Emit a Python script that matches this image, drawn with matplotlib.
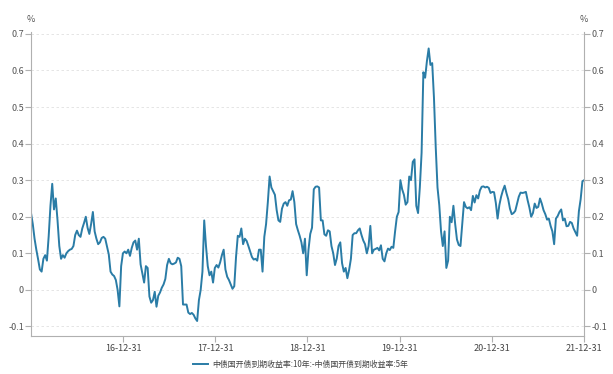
import matplotlib
matplotlib.use('Agg')
import matplotlib.pyplot as plt
import matplotlib.dates as mdates
import matplotlib.ticker as mticker
import numpy as np
import pandas as pd

plt.rcParams['font.family'] = ['Noto Sans CJK SC', 'DejaVu Sans']

# weekly readings, 2016-01-01 .. 2021-12-31
dates = pd.date_range('2016-01-01', '2021-12-31', freq='7D')
spread = [
    0.21, 0.18, 0.14, 0.11, 0.084, 0.056, 0.05, 0.085, 0.095, 0.08,
    0.147, 0.23, 0.29, 0.22, 0.25, 0.19, 0.12, 0.085, 0.095, 0.088,
    0.10, 0.106, 0.11, 0.112, 0.12, 0.15, 0.162, 0.15, 0.145, 0.168,
    0.183, 0.20, 0.17, 0.153, 0.18, 0.213, 0.16, 0.14, 0.125, 0.13,
    0.142, 0.145, 0.14, 0.118, 0.097, 0.05, 0.042, 0.038, 0.027, 0.0,
    -0.045, 0.065, 0.10, 0.105, 0.10, 0.11, 0.093, 0.115, 0.13, 0.135,
    0.11, 0.14, 0.07, 0.045, 0.02, 0.065, 0.06, -0.018, -0.035, -0.028,
    -0.005, -0.046, -0.016, -0.007, 0.006, 0.015, 0.03, 0.068, 0.085, 0.073,
    0.07, 0.072, 0.075, 0.088, 0.085, 0.065, -0.04, -0.04, -0.04, -0.062,
    -0.066, -0.063, -0.068, -0.078, -0.085, -0.028, 0.0, 0.05, 0.19, 0.12,
    0.065, 0.04, 0.05, 0.02, 0.06, 0.068, 0.061, 0.075, 0.095, 0.11,
    0.056, 0.036, 0.027, 0.015, 0.003, 0.01, 0.09, 0.148, 0.145, 0.168,
    0.125, 0.14, 0.134, 0.12, 0.105, 0.09, 0.083, 0.085, 0.08, 0.11,
    0.11, 0.05, 0.145, 0.18, 0.24, 0.31, 0.28, 0.27, 0.26, 0.218,
    0.19, 0.186, 0.222, 0.236, 0.24, 0.23, 0.245, 0.247, 0.27, 0.24,
    0.18, 0.163, 0.148, 0.13, 0.10, 0.14, 0.04, 0.11, 0.153, 0.17,
    0.275, 0.282, 0.283, 0.28, 0.19, 0.19, 0.152, 0.148, 0.163, 0.16,
    0.12, 0.10, 0.068, 0.086, 0.12, 0.13, 0.073, 0.05, 0.06, 0.032,
    0.055, 0.085, 0.15, 0.155, 0.155, 0.163, 0.168, 0.15, 0.135, 0.125,
    0.10, 0.12, 0.175, 0.10, 0.11, 0.112, 0.115, 0.108, 0.122, 0.085,
    0.078, 0.10, 0.113, 0.109, 0.118, 0.115, 0.16, 0.20, 0.213, 0.30,
    0.275, 0.26, 0.233, 0.24, 0.31, 0.30, 0.35, 0.357, 0.23, 0.21,
    0.28, 0.375, 0.595, 0.58, 0.625, 0.66, 0.615, 0.62, 0.525, 0.39,
    0.28, 0.232, 0.16, 0.12, 0.16, 0.06, 0.08, 0.20, 0.185, 0.23,
    0.18, 0.138, 0.123, 0.12, 0.18, 0.24, 0.227, 0.223, 0.226, 0.218,
    0.257, 0.239, 0.259, 0.25, 0.272, 0.282, 0.283, 0.28, 0.282, 0.279,
    0.265, 0.268, 0.267, 0.238, 0.195, 0.232, 0.255, 0.272, 0.285, 0.265,
    0.248, 0.222, 0.207, 0.21, 0.216, 0.236, 0.255, 0.266, 0.265, 0.266,
    0.268, 0.245, 0.225, 0.20, 0.21, 0.236, 0.224, 0.227, 0.25, 0.236,
    0.218, 0.207, 0.192, 0.195, 0.175, 0.16, 0.125, 0.195, 0.202, 0.213,
    0.22, 0.19, 0.195, 0.174, 0.175, 0.186, 0.183, 0.168, 0.158, 0.148,
    0.215, 0.248, 0.297, 0.30,
]
n = min(len(dates), len(spread))
dates = dates[:n]
spread = spread[:n]

x_ticks = ['2016-12-31', '2017-12-31', '2018-12-31', '2019-12-31', '2020-12-31', '2021-12-31']
y_ticks = [-0.1, 0, 0.1, 0.2, 0.3, 0.4, 0.5, 0.6, 0.7]
label = '中债国开债到期收益率:10年:-中债国开债到期收益率:5年'

fig = plt.figure(figsize=(6.13, 3.74), dpi=100)
ax = fig.add_axes([0.0506, 0.1016, 0.9024, 0.8128])

ax.plot(dates, spread, color='#2a7ca6', lw=1.4, label=label)

ax.set_xlim(pd.Timestamp('2016-01-01'), pd.Timestamp('2021-12-31'))
ax.set_ylim(-0.126, 0.705)
ax.set_yticks(y_ticks)
ax.yaxis.set_major_formatter(mticker.FuncFormatter(lambda v, p: f'{v:g}'))
ax.set_xticks(pd.to_datetime(x_ticks))
ax.xaxis.set_major_formatter(mdates.DateFormatter('%y-%m-%d'))

ax.grid(axis='y', color='#e0e0e0', ls=(0, (3, 3)), lw=0.6)
ax.set_axisbelow(True)
for s in ['left', 'right', 'bottom']:
    ax.spines[s].set_color('#b0b0b0')
ax.spines['top'].set_visible(False)
ax.tick_params(axis='y', left=True, right=True, labelleft=True, labelright=True,
               length=4, width=0.8, color='#b0b0b0', labelsize=6.5, labelcolor='#555555', pad=1)
ax.tick_params(axis='x', length=4, width=0.8, color='#b0b0b0', labelsize=6.5,
               labelcolor='#444444', pad=2)

ax.text(0.0, 1.025, '%', transform=ax.transAxes, ha='center', va='bottom', fontsize=6.5, color='#555555')
ax.text(1.0, 1.025, '%', transform=ax.transAxes, ha='center', va='bottom', fontsize=6.5, color='#555555')

fig.legend(loc='center', bbox_to_anchor=(0.49, 0.025), frameon=False, fontsize=5.7,
           handlelength=2, handletextpad=0.5, labelcolor='#444444')

fig.savefig('out.png', dpi=100)
